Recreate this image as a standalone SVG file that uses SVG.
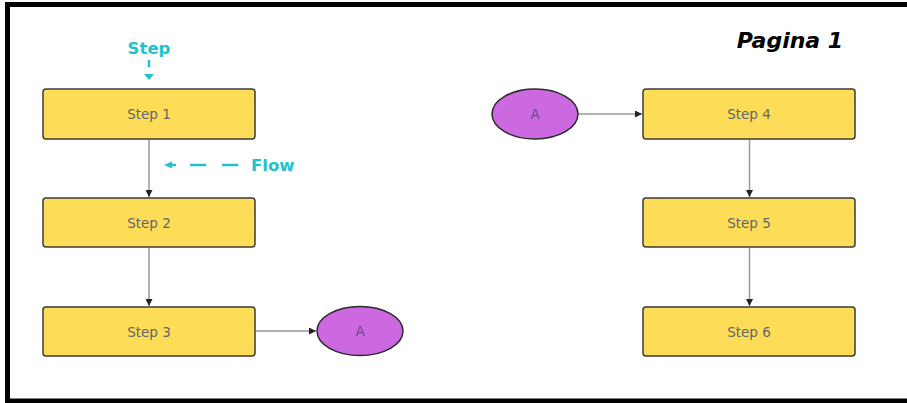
<svg xmlns="http://www.w3.org/2000/svg" width="907" height="403" viewBox="0 0 907 403">
  <style>
    .step rect { fill: #fddc57; stroke: #3a3a3a; stroke-width: 1.5; }
    .conn ellipse { fill: #cc68e0; stroke: #2a2a2a; stroke-width: 1.5; }
    .label { font-family: "DejaVu Sans", Verdana, sans-serif; font-size: 13.5px; fill: #666; text-anchor: middle; dominant-baseline: central; }
    .conn .label { fill: #6a4a8a; }
    .edge { stroke: #999; stroke-width: 1.5; fill: none; marker-end: url(#arrow); }
    .note { font-family: "DejaVu Sans", Verdana, sans-serif; font-size: 16.5px; font-weight: bold; fill: #1ec3cf; }
    .hint { stroke: #1ec3cf; stroke-width: 2.5; fill: none; }
  </style>
  <defs>
    <marker id="arrow" viewBox="0 0 10 10" refX="10" refY="5" markerWidth="7" markerHeight="7" markerUnits="userSpaceOnUse" orient="auto">
      <path d="M0,0 L10,5 L0,10 z" fill="#222"/>
    </marker>
  </defs>

  <rect width="907" height="403" fill="#fff"/>
  <!-- page frame (right edge runs off the page) -->
  <rect x="7.5" y="4.5" width="910" height="396.5" fill="none" stroke="#000" stroke-width="5"/>

  <text x="790" y="48" font-family="'DejaVu Sans', Verdana, sans-serif" font-size="22" font-weight="bold" font-style="italic" fill="#000" text-anchor="middle">Pagina 1</text>

  <!-- legend hints -->
  <g id="legend">
    <text class="note" x="149" y="54" text-anchor="middle">Step</text>
    <line class="hint" x1="149" y1="60" x2="149" y2="67"/>
    <path d="M144,74 L154,74 L149,80 z" fill="#1ec3cf"/>
    <path d="M164,165 L172,161.5 L172,168.5 z" fill="#1ec3cf"/>
    <line class="hint" x1="172" y1="165" x2="176" y2="165"/>
    <line class="hint" x1="190" y1="165" x2="206" y2="165"/>
    <line class="hint" x1="222" y1="165" x2="238" y2="165"/>
    <text class="note" x="251" y="171">Flow</text>
  </g>

  <g id="connectors">
    <line class="edge" x1="149" y1="140" x2="149" y2="197"/>
    <line class="edge" x1="149" y1="248" x2="149" y2="306"/>
    <line class="edge" x1="256" y1="331" x2="316" y2="331"/>
    <line class="edge" x1="578" y1="114" x2="642" y2="114"/>
    <line class="edge" x1="749.5" y1="140" x2="749.5" y2="197"/>
    <line class="edge" x1="749.5" y1="248" x2="749.5" y2="306"/>
  </g>

  <g id="step1" class="step"><rect x="43" y="89" width="212" height="50" rx="3"/><text class="label" x="149" y="114">Step 1</text></g>
  <g id="step2" class="step"><rect x="43" y="198" width="212" height="49" rx="3"/><text class="label" x="149" y="222.5">Step 2</text></g>
  <g id="step3" class="step"><rect x="43" y="307" width="212" height="49" rx="3"/><text class="label" x="149" y="331.5">Step 3</text></g>
  <g id="connA1" class="conn"><ellipse cx="360" cy="331" rx="43" ry="24.5"/><text class="label" x="360" y="331">A</text></g>
  <g id="connA2" class="conn"><ellipse cx="535" cy="114" rx="43" ry="25"/><text class="label" x="535" y="114">A</text></g>
  <g id="step4" class="step"><rect x="643" y="89" width="212" height="50" rx="3"/><text class="label" x="749" y="114">Step 4</text></g>
  <g id="step5" class="step"><rect x="643" y="198" width="212" height="49" rx="3"/><text class="label" x="749" y="222.5">Step 5</text></g>
  <g id="step6" class="step"><rect x="643" y="307" width="212" height="49" rx="3"/><text class="label" x="749" y="331.5">Step 6</text></g>
</svg>
